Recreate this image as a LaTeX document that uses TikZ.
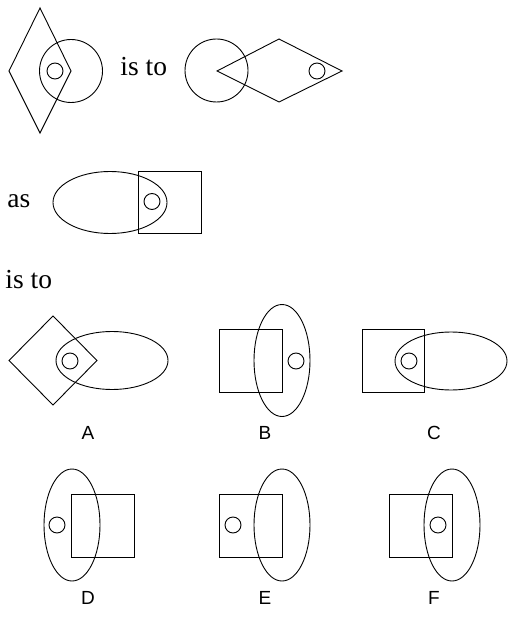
\documentclass[tikz,border=0pt]{standalone}
\usepackage{fontspec}
\setmainfont{Liberation Serif}
\newfontfamily\labfont{Liberation Sans}
\begin{document}
\begin{tikzpicture}[x=1pt,y=-1pt,line width=0.9pt,
  fig/.style={draw=black},
  word/.style={anchor=base west,inner sep=0pt,font=\fontsize{27.5}{30}\selectfont},
  lab/.style={inner sep=0pt,font=\labfont\fontsize{19}{21}\selectfont}]
\useasboundingbox (0,0) rectangle (511,617);
% figure 1
\draw[fig] (40,8) -- (71,71) -- (40,133) -- (9,71) -- cycle;
\draw[fig] (71,71) circle[radius=31.5pt];
\draw[fig] (55,71) circle[radius=8pt];
\node[word] (t1) at (120,76) {is to};
% figure 2
\draw[fig] (216.5,70.5) circle[radius=31.5pt];
\draw[fig] (217,71) -- (279,39) -- (342,71) -- (279,102) -- cycle;
\draw[fig] (317,71) circle[radius=8pt];
% figure 3
\node[word] (t2) at (7,208) {as};
\draw[fig] (110,202.5) ellipse[x radius=57pt,y radius=31pt];
\draw[fig] (138,171) rectangle (201,233);
\draw[fig] (152,201.5) circle[radius=8pt];
\node[word] (t3) at (5,288) {is to};
% A
\draw[fig] (53,316) -- (97,360.5) -- (53,405) -- (9,360.5) -- cycle;
\draw[fig] (112,360.5) ellipse[x radius=56pt,y radius=29pt];
\draw[fig] (70,361) circle[radius=8pt];
\node[lab] (la) at (88,433) {A};
% B
\draw[fig] (219,329) rectangle (282,392);
\draw[fig] (282,360.5) ellipse[x radius=28pt,y radius=56pt];
\draw[fig] (296,361) circle[radius=8pt];
\node[lab] (lb) at (265,433) {B};
% C
\draw[fig] (362,329) rectangle (424,392);
\draw[fig] (451,361) ellipse[x radius=56pt,y radius=29pt];
\draw[fig] (409,361) circle[radius=8pt];
\node[lab] (lc) at (434,433) {C};
% D
\draw[fig] (72,525) ellipse[x radius=28pt,y radius=56pt];
\draw[fig] (71,494) rectangle (134,557);
\draw[fig] (57,525) circle[radius=8pt];
\node[lab] (ld) at (88,598) {D};
% E
\draw[fig] (219,494) rectangle (282,557);
\draw[fig] (282,525) ellipse[x radius=28pt,y radius=56pt];
\draw[fig] (233,525) circle[radius=8pt];
\node[lab] (le) at (265,598) {E};
% F
\draw[fig] (389,494) rectangle (452,557);
\draw[fig] (452,525) ellipse[x radius=28pt,y radius=56pt];
\draw[fig] (438,525) circle[radius=8pt];
\node[lab] (lf) at (434,598) {F};
\end{tikzpicture}
\end{document}
